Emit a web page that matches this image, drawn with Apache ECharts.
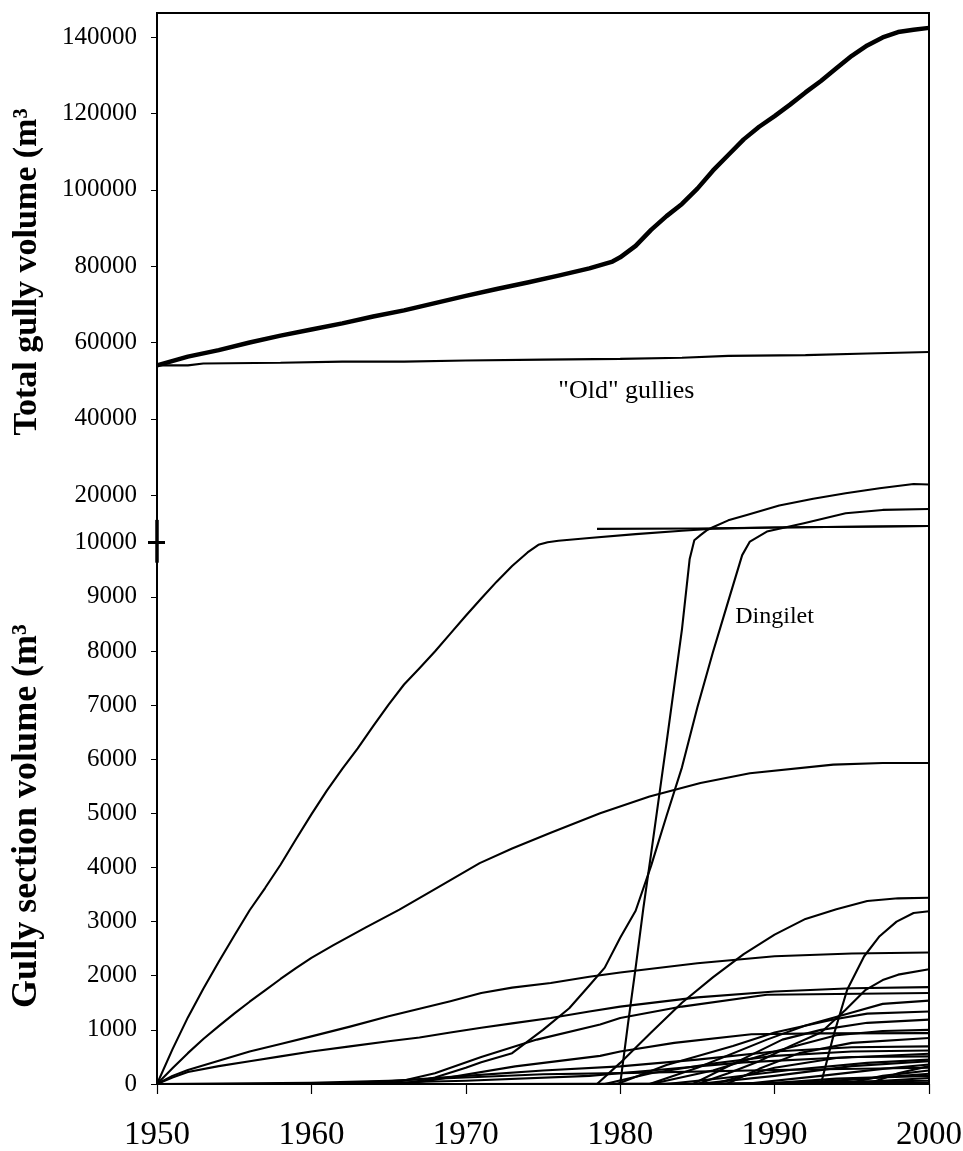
<!DOCTYPE html>
<html><head><meta charset="utf-8">
<script src="https://cdn.jsdelivr.net/npm/echarts@6/dist/echarts.min.js"></script>
<style>html,body{margin:0;padding:0;background:#fff}#c{width:963px;height:1151px}</style>
</head><body><div id="c"></div>
<script>
// ---------- DATA (year, volume m3) ----------
const yTickValues = [0,1000,2000,3000,4000,5000,6000,7000,8000,9000,10000,20000,40000,60000,80000,100000,120000,140000];
const xTickYears = [1950,1960,1970,1980,1990,2000];

const totalVolume = [[1950,54000],[1952,56300],[1954,58000],[1956,60000],[1958,61800],[1960,63400],[1962,65000],[1964,66800],[1966,68400],[1968,70300],[1970,72200],[1972,74000],[1974,75700],[1976,77500],[1978,79400],[1979.5,81200],[1980,82300],[1981,85300],[1982,89500],[1983,93100],[1984,96300],[1985,100300],[1986,105000],[1987,109100],[1988,113200],[1989,116500],[1990,119300],[1991,122300],[1992,125500],[1993,128500],[1994,131800],[1995,135100],[1996,137800],[1997,139900],[1998,141300],[1999,141900],[2000,142400]];
const oldGullies = [[1950,54000],[1952,54000],[1953,54500],[1958,54700],[1962,55000],[1966,55000],[1970,55300],[1975,55500],[1980,55700],[1984,56000],[1987,56500],[1992,56700],[1996,57100],[2000,57500]];

const sectionA = [[1950,0],[1951,640],[1952,1230],[1953,1760],[1954,2260],[1955,2740],[1956,3210],[1957,3620],[1958,4050],[1959,4520],[1960,4980],[1961,5420],[1962,5820],[1963,6200],[1964,6610],[1965,7010],[1966,7380],[1967,7680],[1968,7990],[1969,8320],[1970,8650],[1971,8970],[1972,9280],[1973,9570],[1974,9820],[1974.7,9960],[1975.3,10080],[1976,10400],[1978,11000],[1981,11800],[1984,12500],[1986,12950],[1990,13200],[2000,13500]];
const sectionA2 = [[1978.5,12900],[1985,13000],[1990,13200],[2000,13500]];
const sectionB1 = [[1980,0],[1980.5,1100],[1981,2150],[1981.5,3250],[1982,4250],[1983,6300],[1984,8400],[1984.5,9700],[1984.8,10500],[1985.2,11600],[1985.6,12600],[1986,13260],[1987,14700],[1988.2,15850],[1990.3,17850],[1992.5,19260],[1994.6,20520],[1996.8,21830],[1999,22950],[2000,22800]];
const dingilet = [[1966,0],[1968,120],[1970,300],[1971,400],[1973,570],[1975,1000],[1976.7,1400],[1978,1820],[1979,2150],[1980,2700],[1981,3200],[1982,4030],[1983,4950],[1984,5850],[1985,6960],[1986,7970],[1987,8920],[1987.9,9770],[1988.4,10230],[1989.5,12340],[1991.9,14100],[1994.6,16200],[1997,16900],[2000,17100]];
const sectionD = [[1950,0],[1951,290],[1952,570],[1953,830],[1954,1070],[1955,1300],[1956,1520],[1957,1730],[1958,1940],[1959,2140],[1960,2330],[1961.4,2560],[1963.5,2890],[1965.7,3220],[1968,3600],[1970.9,4080],[1973,4350],[1975.5,4640],[1978.7,5000],[1981.9,5310],[1985.2,5560],[1988.4,5740],[1993.8,5900],[1997,5930],[2000,5930]];
const sectionE = [[1950,0],[1951,150],[1952,260],[1954,430],[1956,600],[1958,740],[1960,880],[1962.5,1060],[1965,1250],[1967,1390],[1969,1530],[1971,1680],[1973,1780],[1975.5,1865],[1978,1980],[1980,2060],[1985,2230],[1990,2360],[1995,2410],[2000,2430]];
const sectionF = [[1950,0],[1951,120],[1952,220],[1954,330],[1956,420],[1958,510],[1960,600],[1962.5,695],[1965,790],[1967,860],[1969,950],[1971,1040],[1973,1120],[1975.5,1220],[1978,1340],[1980,1430],[1985,1600],[1990,1710],[1995,1770],[2000,1790]];
const sectionG = [[1985,0],[1987,200],[1989,420],[1991,700],[1993,950],[1994.6,1370],[1995.9,1740],[1997,1920],[1998,2020],[2000,2120]];
const sectionH = [[1978.5,0],[1980,390],[1982,950],[1984,1500],[1986,1970],[1988,2400],[1990,2760],[1992,3050],[1994,3230],[1996,3380],[1998,3430],[2000,3440]];
const sectionI = [[1993,0],[1993.8,880],[1994.7,1740],[1995.8,2360],[1996.8,2730],[1997.9,3000],[1999,3160],[2000,3190]];
const sectionK = [[1965,0],[1968,200],[1971,500],[1974.6,820],[1978.7,1100],[1980,1220],[1984,1430],[1989.5,1650],[2000,1680]];
const sectionL = [[1966,0],[1968,80],[1973.2,325],[1978.7,520],[1980,600],[1983.5,760],[1988.5,920],[1993,935],[2000,940]];
const sectionM = [[1960,0],[1965,50],[1970,150],[1975,250],[1980,325],[1985,450],[1990,600],[1995,680],[2000,695]];
const sectionN = [[1961,0],[1970,60],[1978,150],[1982,250],[1988,400],[1995,500],[2000,510]];
const sectionP = [[1979.8,0],[1983,350],[1987.3,700],[1990,950],[1993.8,1190],[1996,1300],[2000,1340]];
const sectionQ = [[1981.9,0],[1985,300],[1989.5,820],[1992,1080],[1994.9,1310],[1997,1480],[2000,1540]];
const sectionR = [[1984.7,0],[1987.5,400],[1990.5,820],[1993,1000],[1996,1130],[2000,1190]];
const sectionS = [[1986.9,0],[1989,280],[1991.6,570],[1995,760],[2000,850]];
const sectionT = [[1985,0],[1990,150],[1995,330],[2000,420]];
const sectionU = [[1988,0],[1993,150],[1997,280],[2000,360]];
const sectionV = [[1990,0],[1995,80],[2000,190]];
const sectionW = [[1993,0],[1997,60],[2000,110]];
const sectionX = [[1970,0],[1985,10],[2000,20]];
const sectionY = [[1950,0],[1960,20],[1965,60],[1970,120],[1975,180],[1980,200],[1990,260],[2000,300]];
const sectionZ1 = [[1979,0],[1982,200],[1986,380],[1990,520],[1995,600],[2000,620]];
const sectionZ2 = [[1983,0],[1987,120],[1991,260],[1996,390],[2000,450]];
const sectionZ3 = [[1994.5,0],[1997,150],[2000,250]];
const sectionZ4 = [[1996,0],[1998,200],[2000,330]];
const sectionZ5 = [[1986,0],[1990,300],[1994,480],[2000,560]];
const sectionZ6 = [[1989,0],[1994,100],[2000,150]];
const sectionZ7 = [[1985,0],[1992,30],[2000,60]];
const sectionZ8 = [[1982,0],[1986,250],[1990,600],[1994,900],[1997,980],[2000,1000]];

const oldLabel = {year:1980.4, value:47230, text:'"Old" gullies'};
const dingiletLabel = {year:1990.0, value:8630, text:'Dingilet'};

// ---------- broken-axis transform (0-10000 | 10000-20000 compressed | >20000) ----------
const MID_SCALE = 0.0877, UPPER_SCALE = 0.07053;
function toAxis(v){
  if (v <= 10000) return v;
  if (v <= 20000) return 10000 + (v-10000)*MID_SCALE;
  return 10000 + 10000*MID_SCALE + (v-20000)*UPPER_SCALE;
}
const AXIS_MAX = toAxis(146300);
const yTickDisp = yTickValues.map(toAxis);
function labelFor(d){
  let best = 0, bd = Infinity;
  yTickValues.forEach(v => { const dd = Math.abs(toAxis(v)-d); if (dd < bd){bd = dd; best = v;} });
  return String(best);
}
const conv = arr => arr.map(p => [p[0], toAxis(p[1])]);

const FONT = 'Liberation Serif';
const thin = [sectionA, sectionA2, sectionB1, dingilet, sectionD, sectionE, sectionF, sectionG, sectionH, sectionI,
  sectionK, sectionL, sectionM, sectionN, sectionP, sectionQ, sectionR, sectionS, sectionT, sectionU, sectionV,
  sectionW, sectionX, sectionY, sectionZ1, sectionZ2, sectionZ3, sectionZ4, sectionZ5, sectionZ6, sectionZ7, sectionZ8];

const series = [];
thin.forEach((d) => {
  const s = {type:'line', data: conv(d), showSymbol:false, smooth:false,
    lineStyle:{color:'#000', width:2.1, join:'round'}, silent:true, z:2};
  if (d === dingilet) {
    s.markPoint = {symbol:'circle', symbolSize:0, data:[{coord:[dingiletLabel.year, toAxis(dingiletLabel.value)],
      label:{show:true, position:'inside', formatter:dingiletLabel.text, fontSize:24, fontFamily:FONT, color:'#000'}}]};
  }
  series.push(s);
});
series.push({type:'line', data: conv(oldGullies), showSymbol:false, lineStyle:{color:'#000', width:2.1}, silent:true,
  markPoint:{symbol:'circle', symbolSize:0, data:[{coord:[oldLabel.year, toAxis(oldLabel.value)],
    label:{show:true, position:'inside', formatter:oldLabel.text, fontSize:26, fontFamily:FONT, color:'#000'}}]}});
series.push({type:'line', data: conv(totalVolume), showSymbol:false, smooth:false, lineStyle:{color:'#000', width:4.5, join:'round'}, silent:true, z:3,
  markLine:{silent:true, symbol:'none', label:{show:false}, lineStyle:{color:'#000', width:3.5, type:'solid'},
    data:[[{coord:[1950, toAxis(9630)]},{coord:[1950, toAxis(14800)]}]]}});

const breakTick = [toAxis(10000)];
const chart = echarts.init(document.getElementById('c'), null, {renderer:'canvas'});
chart.setOption({
  animation:false,
  backgroundColor:'#fff',
  grid:{left:157, right:34, top:13, bottom:67, show:true, borderColor:'#000', borderWidth:2, containLabel:false, outerBoundsMode:'none'},
  xAxis:{type:'value', min:1950, max:2000, interval:10,
    axisLine:{show:true, lineStyle:{color:'#000', width:2}},
    axisTick:{show:true, length:10, lineStyle:{color:'#000', width:1.2}},
    axisLabel:{fontSize:33, fontFamily:FONT, color:'#000', margin:35, formatter: v => String(v)},
    splitLine:{show:false}},
  yAxis:[
    {type:'value', min:0, max:AXIS_MAX, position:'left',
      axisLine:{show:true, lineStyle:{color:'#000', width:2}},
      axisTick:{show:true, customValues:yTickDisp, length:6, lineStyle:{color:'#000', width:1}},
      axisLabel:{customValues:yTickDisp, formatter:labelFor, fontSize:25, fontFamily:FONT, color:'#000', margin:20},
      splitLine:{show:false}},
    {type:'value', min:0, max:AXIS_MAX, position:'left', offset:0,
      axisLine:{show:false}, axisTick:{show:true, inside:true, customValues:breakTick, length:8, lineStyle:{color:'#000', width:3}},
      axisLabel:{show:false, customValues:breakTick}, splitLine:{show:false}},
    {type:'value', min:0, max:AXIS_MAX, position:'left', offset:0,
      axisLine:{show:false}, axisTick:{show:true, inside:false, customValues:breakTick, length:9, lineStyle:{color:'#000', width:3}},
      axisLabel:{show:false, customValues:breakTick}, splitLine:{show:false}}
  ],
  graphic:[
    {type:'text', x:27, y:272, rotation:Math.PI/2,
      style:{text:'Total gully volume (m³', fontSize:34, fontWeight:'bold', fontFamily:FONT, fill:'#000',
        textAlign:'center', textVerticalAlign:'middle', align:'center', verticalAlign:'middle'}},
    {type:'text', x:27, y:816, rotation:Math.PI/2,
      style:{text:'Gully section volume (m³', fontSize:36, fontWeight:'bold', fontFamily:FONT, fill:'#000',
        textAlign:'center', textVerticalAlign:'middle', align:'center', verticalAlign:'middle'}}
  ],
  series: series
});
</script></body></html>
